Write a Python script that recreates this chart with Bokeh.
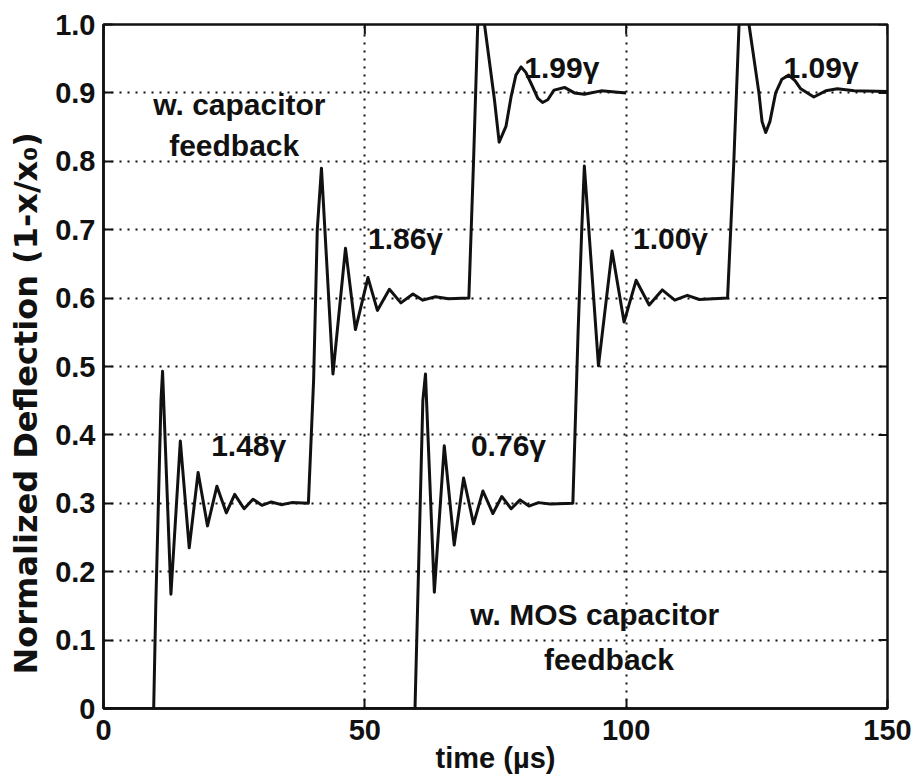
import math
from bokeh.plotting import figure
from bokeh.models import Range1d, FixedTicker, Title
from bokeh.embed import file_html
from bokeh.resources import INLINE
from bokeh.core.properties import value

# ---- axes ----
x_ticks = [0, 50, 100, 150]
x_tick_labels = ["0", "50", "100", "150"]
y_ticks = [0.0, 0.1, 0.2, 0.3, 0.4, 0.5, 0.6, 0.7, 0.8, 0.9, 1.0]
y_tick_labels = ["0", "0.1", "0.2", "0.3", "0.4", "0.5", "0.6", "0.7", "0.8", "0.9", "1.0"]
x_label = "time (µs)"
y_label = "Normalized Deflection (1-x/x₀)"
X_MIN, X_MAX = 0, 150
Y_MIN, Y_MAX = 0.0, 1.0

# ---- trace: w. capacitor feedback (time in µs, normalized deflection) ----
cap_t = [0.0, 9.6, 10.0, 10.5, 11.0, 11.3, 12.9, 14.7, 16.4, 18.1, 19.9, 21.7, 23.5,
         25.1, 26.9, 28.6, 30.3, 32.1, 34.0, 36.0, 39.2,
         40.2, 40.9, 41.7, 43.9, 46.3, 48.2, 50.6, 52.4, 54.7, 56.9, 59.2, 61.1,
         63.5, 66.0, 69.9,
         70.8, 71.6, 72.2, 72.9, 74.8, 75.7, 77.0, 78.0, 78.9, 79.9, 80.8, 82.1, 83.1,
         84.0, 85.0, 86.2, 88.2, 90.1, 92.0, 95.2, 100.0]
cap_y = [0.0, 0.0, 0.15, 0.30, 0.45, 0.493, 0.167, 0.391, 0.235, 0.345, 0.267, 0.325, 0.286,
         0.313, 0.292, 0.306, 0.297, 0.302, 0.298, 0.301, 0.300,
         0.48, 0.70, 0.790, 0.489, 0.673, 0.554, 0.630, 0.582, 0.613, 0.593, 0.606, 0.597,
         0.602, 0.599, 0.600,
         0.80, 1.00, 1.05, 1.00, 0.890, 0.828, 0.851, 0.895, 0.926, 0.938, 0.930, 0.909, 0.892,
         0.886, 0.890, 0.904, 0.908, 0.900, 0.898, 0.903, 0.900]

# ---- trace: w. MOS capacitor feedback ----
mos_t = [50.0, 59.6, 60.1, 60.6, 61.1, 61.6, 63.3, 65.2, 67.1, 68.9, 70.8, 72.6, 74.5,
         76.2, 78.0, 79.7, 81.4, 83.2, 85.5, 89.8,
         90.8, 91.5, 92.0, 94.7, 97.3, 99.6, 101.9, 104.4, 106.9, 109.3, 111.7, 114.0, 119.4,
         120.6, 121.6, 122.5, 123.5, 125.4, 126.0, 126.7, 127.5, 128.6, 129.8, 131.1, 132.3,
         133.4, 135.9, 138.2, 140.4, 143.6, 150.0]
mos_y = [0.0, 0.0, 0.15, 0.30, 0.45, 0.489, 0.170, 0.384, 0.239, 0.337, 0.270, 0.318, 0.285,
         0.310, 0.292, 0.305, 0.296, 0.301, 0.299, 0.300,
         0.55, 0.70, 0.793, 0.501, 0.669, 0.565, 0.626, 0.590, 0.612, 0.597, 0.604, 0.598, 0.600,
         0.80, 1.00, 1.07, 1.00, 0.900, 0.858, 0.842, 0.858, 0.900, 0.920, 0.926, 0.918,
         0.906, 0.894, 0.903, 0.906, 0.903, 0.902]

# ---- annotations ----
gain_text = ["1.48γ", "1.86γ", "1.99γ", "0.76γ", "1.00γ", "1.09γ"]
gain_t = [20.6, 50.6, 80.5, 70.3, 101.3, 130.1]
gain_y = [0.384, 0.687, 0.937, 0.384, 0.687, 0.937]

series_text = ["w. capacitor", "feedback", "w. MOS capacitor", "feedback"]
series_t = [26.0, 25.0, 94.0, 96.7]
series_y = [0.883, 0.823, 0.137, 0.071]

SANS = "Liberation Sans"
WIDE = "DejaVu Sans"
INK = "#111111"

p = figure(width=916, height=777, x_range=Range1d(X_MIN, X_MAX), y_range=Range1d(Y_MIN, Y_MAX),
           output_backend="svg", toolbar_location=None,
           min_border_left=102, min_border_right=29, min_border_top=24, min_border_bottom=69,
           background_fill_color="white", border_fill_color="white")
p.outline_line_color = INK
p.outline_line_width = 2.5

# grid (MATLAB style dotted)
p.xgrid.ticker = FixedTicker(ticks=x_ticks)
p.ygrid.ticker = FixedTicker(ticks=y_ticks)
for g in (p.xgrid, p.ygrid):
    g.grid_line_color = INK
    g.grid_line_dash = "2 6"
    g.grid_line_width = 2

def style_axis(ax, ticks, labels):
    ax.ticker = FixedTicker(ticks=ticks)
    ax.major_tick_in = 9
    ax.major_tick_out = 0
    ax.minor_tick_line_color = None
    ax.axis_line_color = INK
    ax.axis_line_width = 2.5
    ax.major_tick_line_color = INK
    ax.major_tick_line_width = 2
    ax.major_label_overrides = {t: s for t, s in zip(ticks, labels)}
    ax.major_label_text_font = SANS
    ax.major_label_text_font_style = "bold"
    ax.major_label_text_font_size = "29px"
    ax.major_label_text_color = INK

style_axis(p.xaxis[0], x_ticks, x_tick_labels)
style_axis(p.yaxis[0], y_ticks, y_tick_labels)
p.xaxis[0].major_label_standoff = 11
p.yaxis[0].major_label_standoff = 8

# x axis title
p.xaxis[0].axis_label = x_label
p.xaxis[0].axis_label_text_font = SANS
p.xaxis[0].axis_label_text_font_style = "bold"
p.xaxis[0].axis_label_text_font_size = "29px"
p.xaxis[0].axis_label_text_color = INK
p.xaxis[0].axis_label_standoff = -1

# inward ticks on the right and top edges (half of each dash is clipped by the frame)
p.scatter([X_MAX] * len(y_ticks), y_ticks, marker="dash", size=18,
          line_color=INK, line_width=2)
p.scatter(x_ticks, [Y_MAX] * len(x_ticks), marker="dash", size=20, angle=math.pi / 2,
          line_color=INK, line_width=2)

# y axis title (side title, starting a little above the bottom of the frame)
ytitle = Title(text=y_label, align="left", offset=34, vertical_align="top",
               text_font=WIDE, text_font_style="bold", text_font_size="32px",
               text_color=INK, standoff=12)
p.add_layout(ytitle, "left")

# traces
p.line(cap_t, cap_y, line_color=INK, line_width=3, line_join="round")
p.line(mos_t, mos_y, line_color=INK, line_width=3, line_join="round")

# text annotations
p.text(x=gain_t, y=gain_y, text=gain_text, text_font=value(SANS),
       text_font_style="bold", text_font_size="30px", text_color=INK,
       text_align="left", text_baseline="alphabetic")
p.text(x=series_t, y=series_y, text=series_text, text_font=value(SANS),
       text_font_style="bold", text_font_size="30px", text_color=INK,
       text_align="center", text_baseline="alphabetic")

open("out.html", "w").write(file_html(p, INLINE))
